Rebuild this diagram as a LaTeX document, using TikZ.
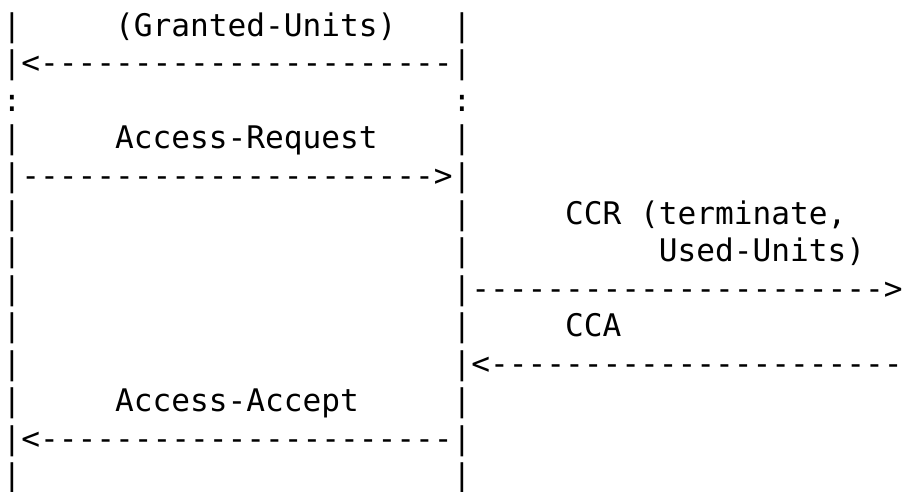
\documentclass[tikz,border=0pt]{standalone}
\usepackage{fontspec}
\newfontfamily\asciimono{DejaVu Sans Mono}[Ligatures=TeXOff]
\begin{document}
\begin{tikzpicture}[x=1pt,y=1pt,
  txt/.style={anchor=base west,inner sep=0pt,outer sep=0pt,
    font=\fontsize{31.15pt}{37.5pt}\selectfont\asciimono}]
\useasboundingbox[fill=white] (0,0) rectangle (905,-492);
\def\cw{18.75}
\def\xo{2.6}
% row 1
\node[txt] (r1a) at ({\xo+0*\cw},-36.5) {|};
\node[txt] (r1b) at ({\xo+6*\cw},-36.5) {(Granted-Units)};
\node[txt] (r1c) at ({\xo+24*\cw},-36.5) {|};
% row 2
\node[txt] (r2) at ({\xo+0*\cw},-74) {|<----------------------|};
% row 3
\node[txt] (r3a) at ({\xo+0*\cw},-111.5) {:};
\node[txt] (r3b) at ({\xo+24*\cw},-111.5) {:};
% row 4
\node[txt] (r4a) at ({\xo+0*\cw},-149) {|};
\node[txt] (r4b) at ({\xo+6*\cw},-149) {Access-Request};
\node[txt] (r4c) at ({\xo+24*\cw},-149) {|};
% row 5
\node[txt] (r5) at ({\xo+0*\cw},-186.5) {|---------------------->|};
% row 6
\node[txt] (r6a) at ({\xo+0*\cw},-224) {|};
\node[txt] (r6b) at ({\xo+24*\cw},-224) {|};
\node[txt] (r6c) at ({\xo+30*\cw},-224) {CCR};
\node[txt] (r6d) at ({\xo+34*\cw},-224) {(terminate,};
% row 7
\node[txt] (r7a) at ({\xo+0*\cw},-261.5) {|};
\node[txt] (r7b) at ({\xo+24*\cw},-261.5) {|};
\node[txt] (r7c) at ({\xo+35*\cw},-261.5) {Used-Units)};
% row 8
\node[txt] (r8a) at ({\xo+0*\cw},-299) {|};
\node[txt] (r8b) at ({\xo+24*\cw},-299) {|---------------------->};
% row 9
\node[txt] (r9a) at ({\xo+0*\cw},-336.5) {|};
\node[txt] (r9b) at ({\xo+24*\cw},-336.5) {|};
\node[txt] (r9c) at ({\xo+30*\cw},-336.5) {CCA};
% row 10
\node[txt] (r10a) at ({\xo+0*\cw},-374) {|};
\node[txt] (r10b) at ({\xo+24*\cw},-374) {|<----------------------};
% row 11
\node[txt] (r11a) at ({\xo+0*\cw},-411.5) {|};
\node[txt] (r11b) at ({\xo+6*\cw},-411.5) {Access-Accept};
\node[txt] (r11c) at ({\xo+24*\cw},-411.5) {|};
% row 12
\node[txt] (r12) at ({\xo+0*\cw},-449) {|<----------------------|};
% row 13
\node[txt] (r13a) at ({\xo+0*\cw},-486.5) {|};
\node[txt] (r13b) at ({\xo+24*\cw},-486.5) {|};
\end{tikzpicture}
\end{document}
